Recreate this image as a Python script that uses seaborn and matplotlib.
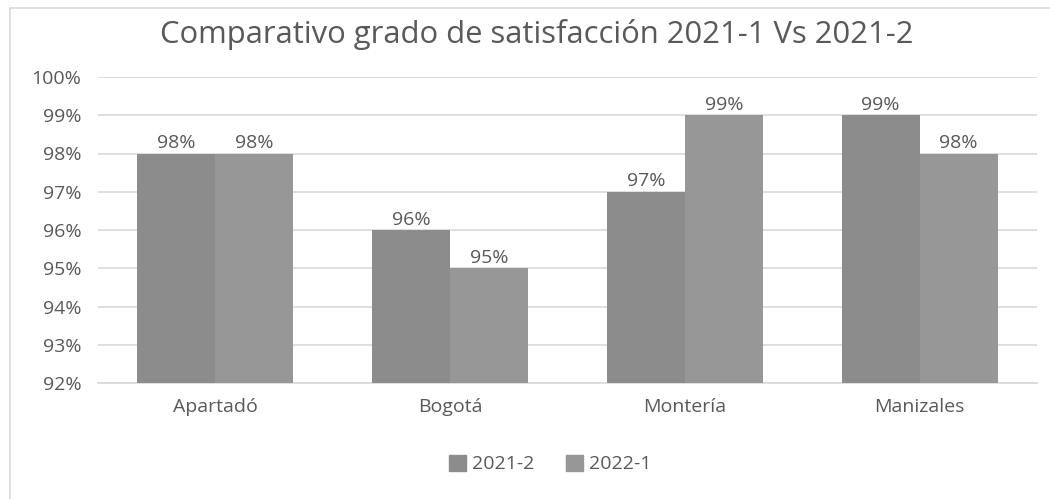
import matplotlib
matplotlib.use("Agg")
import matplotlib.pyplot as plt
import seaborn as sns
import pandas as pd
from matplotlib.patches import Rectangle, Patch
from matplotlib.ticker import FuncFormatter

categories = ["Apartadó", "Bogotá", "Montería", "Manizales"]
series_names = ["2021-2", "2022-1"]
values_2021_2 = [98, 96, 97, 99]
values_2022_1 = [98, 95, 99, 98]
yticks = [92, 93, 94, 95, 96, 97, 98, 99, 100]

df = pd.DataFrame({
    "Sede": categories * 2,
    "Periodo": [series_names[0]] * 4 + [series_names[1]] * 4,
    "Valor": values_2021_2 + values_2022_1,
})

sns.set_theme(style="white")
plt.rcParams["font.family"] = ["Open Sans", "DejaVu Sans"]
txt = "#595959"
fs = 14

fig = plt.figure(figsize=(10.5, 4.99), dpi=100)
ax = fig.add_axes([98 / 1050, 1 - 383 / 499, (1037 - 98) / 1050, (383 - 77) / 499])

palette = {"2021-2": "#8c8c8c", "2022-1": "#979797"}
sns.barplot(data=df, x="Sede", y="Valor", hue="Periodo", palette=palette,
            width=0.664, ax=ax, saturation=1, legend=False, zorder=3,
            linewidth=0, edgecolor="none")

ax.set_ylim(92, 100)
ax.set_yticks(yticks)
ax.yaxis.set_major_formatter(FuncFormatter(lambda v, p: f"{v:.0f}%"))
ax.grid(axis="y", color="#d9d9d9", linewidth=1.2, zorder=0)
ax.set_axisbelow(True)
for s in ["top", "right", "left"]:
    ax.spines[s].set_visible(False)
ax.spines["bottom"].set_color("#d9d9d9")
ax.spines["bottom"].set_linewidth(1.2)
ax.tick_params(axis="both", length=0, labelsize=fs, colors=txt)
ax.tick_params(axis="y", pad=12)
ax.tick_params(axis="x", pad=11)
ax.set_xlabel("")
ax.set_ylabel("")
ax.set_xlim(-0.5, 3.5)

for cont in ax.containers:
    ax.bar_label(cont, labels=[f"{v:.0f}%" for v in cont.datavalues],
                 fontsize=fs, color=txt, padding=1)

fig.text(537 / 1050, 1 - 35 / 499, "Comparativo grado de satisfacción 2021-1 Vs 2021-2",
         ha="center", va="center", fontsize=22.3, color=txt)

handles = [Patch(color=palette[n]) for n in series_names]
fig.legend(handles, series_names, loc="center", bbox_to_anchor=(550 / 1050, 1 - 464 / 499),
           ncol=2, frameon=False, fontsize=fs, labelcolor=txt,
           handlelength=0.9, handleheight=0.9, handletextpad=0.3, columnspacing=1.6)

fig.patches.append(Rectangle((10 / 1050, -0.1), 1.2, 1 - 8 / 499 + 0.1,
                             transform=fig.transFigure, fill=False,
                             edgecolor="#d9d9d9", linewidth=1.2))

fig.savefig("out.png", dpi=100)
